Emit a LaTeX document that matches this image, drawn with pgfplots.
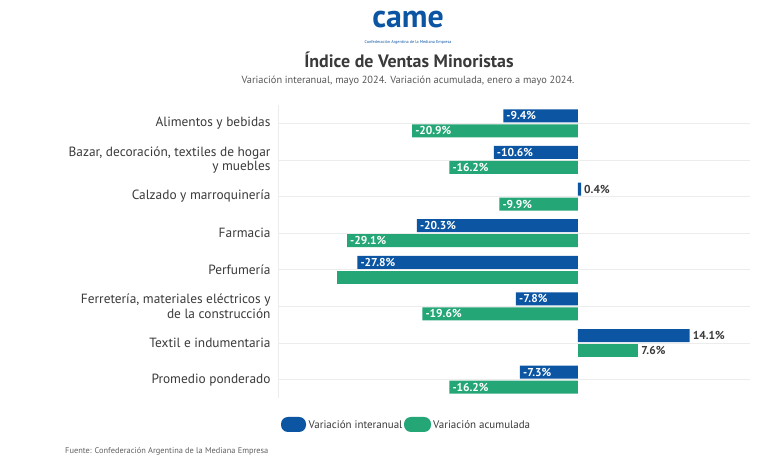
\documentclass[border=0pt]{standalone}
\usepackage{pgfplots}
\pgfplotsset{compat=1.18}
\usepackage{fontspec}
\setmainfont{PT Sans}
\definecolor{cblue}{HTML}{0B55A3}
\definecolor{cgreen}{HTML}{25A677}
\definecolor{txt}{HTML}{3A3A3A}
\definecolor{gridc}{HTML}{ECECEC}
\begin{document}
\begin{tikzpicture}[x=1bp,y=1bp]
\path[use as bounding box, fill=white] (0,0) rectangle (776,460);
\begin{axis}[
  at={(278bp,62bp)}, anchor=south west, scale only axis,
  width=472bp, height=293bp,
  xmin=-37.8, xmax=21.7, ymin=-0.5, ymax=7.5, y dir=reverse,
  xbar, bar width=13bp,
  axis line style={draw=none},
  xtick=\empty,
  ytick={0,...,7},
  yticklabels={Alimentos y bebidas,
    {Bazar, decoración, textiles de hogar\\y muebles},
    Calzado y marroquinería,
    Farmacia,
    Perfumería,
    {Ferretería, materiales eléctricos y\\de la construcción},
    Textil e indumentaria,
    Promedio ponderado},
  yticklabel style={align=right, font=\fontsize{13.4}{14.5}\selectfont, text=txt, xshift=-4bp},
  major tick length=0pt,
  ymajorgrids, grid style={gridc, line width=0.8pt},
  point meta=explicit symbolic,
  nodes near coords,
  nodes near coords style={font=\bfseries\fontsize{11.5}{12}\selectfont, anchor=west, inner sep=3bp},
  clip=false,
]
\draw[gridc, line width=0.8pt] (axis cs:-37.8,-0.5) -- (axis cs:-37.8,7.5);
% Variacion interanual (negative)
\addplot[fill=cblue, draw=none, bar shift=7.5bp, nodes near coords style={text=white}] coordinates {
  (-9.4,0) [-9.4\%]
  (-10.6,1) [-10.6\%]
  (-20.3,3) [-20.3\%]
  (-27.8,4) [-27.8\%]
  (-7.8,5) [-7.8\%]
  (-7.3,7) [-7.3\%]
};
% Variacion interanual (positive)
\addplot[fill=cblue, draw=none, bar shift=7.5bp, nodes near coords style={text=txt}] coordinates {
  (0.4,2) [0.4\%]
  (14.1,6) [14.1\%]
};
% Variacion acumulada (negative)
\addplot[fill=cgreen, draw=none, bar shift=-7.5bp, nodes near coords style={text=white}] coordinates {
  (-20.9,0) [-20.9\%]
  (-16.2,1) [-16.2\%]
  (-9.9,2) [-9.9\%]
  (-29.1,3) [-29.1\%]
  (-19.6,5) [-19.6\%]
  (-16.2,7) [-16.2\%]
};
% Perfumeria acumulada (no label)
\addplot[fill=cgreen, draw=none, bar shift=-7.5bp, nodes near coords style={text=white}] coordinates {
  (-30.4,4) []
};
% Variacion acumulada (positive)
\addplot[fill=cgreen, draw=none, bar shift=-7.5bp, nodes near coords style={text=txt}] coordinates {
  (7.6,6) [7.6\%]
};
\end{axis}
% logo
\node[text=cblue, font=\bfseries\fontsize{32}{32}\selectfont] at (408,440) {came};
\node[text=cblue, font=\fontsize{4.2}{5}\selectfont] at (408,418) {Confederación Argentina de la Mediana Empresa};
% titles
\node[text=txt, font=\bfseries\fontsize{18}{20}\selectfont] at (409,400) {Índice de Ventas Minoristas};
\node[text=txt!85, font=\fontsize{10.4}{12}\selectfont] at (408,379) {Variación interanual, mayo 2024. Variación acumulada, enero a mayo 2024.};
% legend
\fill[cblue, rounded corners=7bp] (281,28) rectangle (306,43);
\node[anchor=west, text=txt, font=\fontsize{11}{12}\selectfont, inner sep=0pt] at (308.5,35.5) {Variación interanual};
\fill[cgreen, rounded corners=7bp] (404,28) rectangle (431,43);
\node[anchor=west, text=txt, font=\fontsize{11}{12}\selectfont, inner sep=0pt] at (433,35.5) {Variación acumulada};
% footer
\node[anchor=west, text=txt!80, font=\fontsize{8.4}{9}\selectfont, inner sep=0pt] at (65,9) {Fuente: Confederación Argentina de la Mediana Empresa};
\end{tikzpicture}
\end{document}
